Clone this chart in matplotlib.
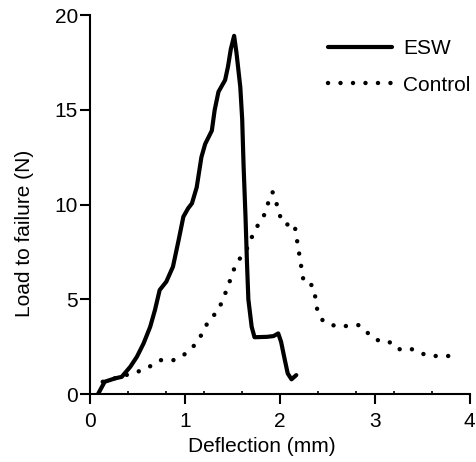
import numpy as np
import matplotlib.pyplot as plt
from matplotlib.ticker import MultipleLocator

plt.rcParams['font.family'] = ['Liberation Sans', 'DejaVu Sans']

# ESW curve (deflection mm, load N)
esw_x = [0.08, 0.15, 0.26, 0.33, 0.42, 0.49, 0.56, 0.63, 0.68, 0.73, 0.80, 0.87,
         0.93, 0.98, 1.03, 1.07, 1.12, 1.17, 1.21, 1.28, 1.31, 1.35, 1.42, 1.45,
         1.48, 1.515, 1.54, 1.58, 1.60, 1.615, 1.635, 1.65, 1.665, 1.70, 1.73,
         1.86, 1.93, 1.98, 2.01, 2.05, 2.08, 2.12, 2.17]
esw_y = [0.0, 0.65, 0.83, 0.91, 1.44, 1.97, 2.67, 3.55, 4.43, 5.49, 5.93, 6.72,
         8.13, 9.36, 9.8, 10.06, 10.9, 12.5, 13.2, 13.9, 14.99, 15.95, 16.57, 17.27,
         18.2, 18.9, 18.0, 16.2, 14.5, 12.0, 9.36, 7.0, 5.0, 3.55, 3.0,
         3.02, 3.06, 3.2, 2.76, 1.79, 1.09, 0.78, 1.0]

# Control curve
ctrl_x = [0.13, 0.50, 0.62, 0.74, 0.87, 0.99, 1.10, 1.18, 1.24, 1.35, 1.40, 1.45,
          1.49, 1.54, 1.64, 1.69, 1.75, 1.83, 1.87, 1.92, 1.96, 1.99, 2.05, 2.15,
          2.17, 2.19, 2.21, 2.23, 2.25, 2.34, 2.37, 2.39, 2.45, 2.58, 2.70, 2.83,
          2.92, 3.02, 3.14, 3.24, 3.37, 3.48, 3.60, 3.72, 3.85]
ctrl_y = [0.65, 1.18, 1.44, 1.79, 1.78, 2.09, 2.59, 3.2, 3.82, 4.43, 5.05, 5.66,
          6.28, 6.93, 7.55, 8.16, 8.78, 9.43, 10.03, 10.66, 10.1, 9.48, 8.93, 9.0,
          8.37, 7.74, 7.12, 6.49, 5.87, 5.74, 5.14, 4.49, 3.87, 3.59, 3.59, 3.64,
          3.24, 2.85, 2.80, 2.36, 2.41, 2.15, 2.01, 2.01, 2.01]

fig = plt.figure(figsize=(4.76, 4.62), dpi=100)
ax = fig.add_axes([0.190, 0.147, 0.797, 0.8205])

ax.plot(ctrl_x, ctrl_y, color='black', lw=3.2, linestyle=(0, (0.01, 2.8)),
        dash_capstyle='round', label='Control')
ax.plot(esw_x, esw_y, color='black', lw=3, solid_capstyle='round',
        solid_joinstyle='round', label='ESW')

ax.set_xlim(0, 4)
ax.set_ylim(0, 20)
ax.xaxis.set_major_locator(MultipleLocator(1))
ax.xaxis.set_minor_locator(MultipleLocator(0.4))
ax.yaxis.set_major_locator(MultipleLocator(5))

for side in ['top', 'right']:
    ax.spines[side].set_visible(False)
for side in ['left', 'bottom']:
    ax.spines[side].set_linewidth(1.5)

ax.tick_params(which='major', direction='out', length=7, width=1.5, labelsize=15)
ax.tick_params(axis='x', which='major', pad=6)
ax.tick_params(axis='y', which='major', pad=2)
ax.tick_params(which='minor', direction='in', length=2, width=1.2)

ax.set_xlabel('Deflection (mm)', fontsize=15)
ax.set_ylabel('Load to failure (N)', fontsize=15)
ax.xaxis.set_label_coords(0.453, -0.113)
ax.yaxis.set_label_coords(-0.149, 0.425)

h, l = ax.get_legend_handles_labels()
ax.legend(h[::-1], l[::-1], loc='upper left', bbox_to_anchor=(0.626, 0.937),
          frameon=False, fontsize=15, handlelength=3.07, handletextpad=0.53,
          labelspacing=0.85, borderpad=0, borderaxespad=0)

fig.savefig('out.png', dpi=100)
